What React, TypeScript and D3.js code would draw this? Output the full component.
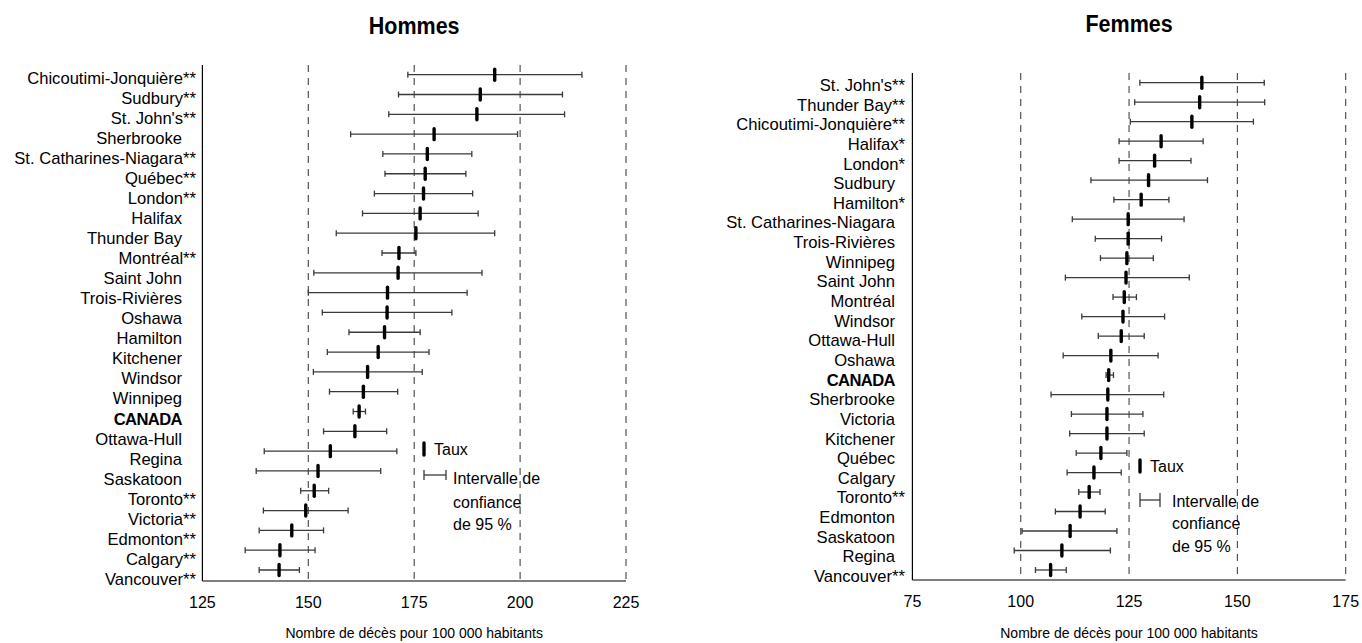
import React from "react";
import * as d3 from "d3";

// ---------- Data ----------
const menLabels = [
  "Chicoutimi-Jonquière**", "Sudbury**", "St. John's**", "Sherbrooke", "St. Catharines-Niagara**",
  "Québec**", "London**", "Halifax", "Thunder Bay", "Montréal**", "Saint John", "Trois-Rivières",
  "Oshawa", "Hamilton", "Kitchener", "Windsor", "Winnipeg", "CANADA", "Ottawa-Hull", "Regina",
  "Saskatoon", "Toronto**", "Victoria**", "Edmonton**", "Calgary**", "Vancouver**",
];
const menRate = [194.0, 190.6, 189.8, 179.7, 178.1, 177.6, 177.2, 176.4, 175.4, 171.4, 171.2, 168.7,
  168.6, 168.0, 166.5, 164.0, 163.0, 162.0, 161.0, 155.2, 152.3, 151.4, 149.4, 146.1, 143.3, 143.1];
const menLow = [173.5, 171.3, 169.0, 160.0, 167.6, 168.1, 165.6, 162.8, 156.6, 167.4, 151.3, 150.0,
  153.3, 159.6, 154.5, 151.2, 155.0, 160.6, 153.6, 139.6, 137.7, 148.2, 139.4, 138.4, 135.1, 138.4];
const menHigh = [214.6, 210.0, 210.5, 199.4, 188.6, 187.2, 188.8, 190.1, 194.0, 175.4, 191.0, 187.5,
  183.9, 176.4, 178.5, 176.9, 171.1, 163.5, 168.5, 170.9, 167.1, 154.8, 159.4, 153.6, 151.6, 147.9];

const womenLabels = [
  "St. John's**", "Thunder Bay**", "Chicoutimi-Jonquière**", "Halifax*", "London*", "Sudbury",
  "Hamilton*", "St. Catharines-Niagara", "Trois-Rivières", "Winnipeg", "Saint John", "Montréal",
  "Windsor", "Ottawa-Hull", "Oshawa", "CANADA", "Sherbrooke", "Victoria", "Kitchener", "Québec",
  "Calgary", "Toronto**", "Edmonton", "Saskatoon", "Regina", "Vancouver**",
];
const womenRate = [141.8, 141.3, 139.5, 132.4, 130.9, 129.5, 127.8, 124.8, 124.8, 124.5, 124.3, 123.9,
  123.6, 123.2, 120.8, 120.3, 120.1, 119.9, 119.9, 118.5, 116.9, 115.8, 113.7, 111.4, 109.5, 106.9];
const womenLow = [127.5, 126.3, 125.3, 122.7, 122.7, 116.2, 121.5, 111.9, 117.2, 118.4, 110.3, 121.3,
  114.1, 117.9, 109.8, 119.7, 107.0, 111.7, 111.3, 112.8, 110.7, 113.4, 108.0, 100.3, 98.5, 103.4];
const womenHigh = [156.2, 156.3, 153.7, 142.1, 139.3, 143.1, 134.2, 137.7, 132.5, 130.6, 138.9, 126.7,
  133.2, 128.5, 131.7, 121.4, 133.0, 128.2, 128.5, 124.5, 123.2, 118.3, 119.5, 122.2, 120.7, 110.5];

const menTicks = [125, 150, 175, 200, 225];
const womenTicks = [75, 100, 125, 150, 175];

const legendLines = ["Intervalle de", "confiance", "de 95 %"];
const axisTitle = "Nombre de décès pour 100 000 habitants";
const FONT = "'Liberation Sans', Arial, Helvetica, sans-serif";

type PanelProps = {
  title: string;
  labels: string[];
  rate: number[];
  low: number[];
  high: number[];
  ticks: number[];
  xRange: [number, number];
  yRange: [number, number];
  labelRange: [number, number];
  top: number;
  bottom: number;
  labelEndPlain: number;
  labelEndStar: number;
  titleY: number;
  legend: { x: number; tauxY: number; ciY: number; ciW: number; capH: number; textX: number; lines: number[] };
};

function Panel(p: PanelProps) {
  const x = d3.scaleLinear().domain([p.ticks[0], p.ticks[p.ticks.length - 1]]).range(p.xRange);
  const y = d3.scalePoint<string>().domain(p.labels).range(p.yRange);
  const yl = d3.scalePoint<string>().domain(p.labels).range(p.labelRange);
  const cx = (p.xRange[0] + p.xRange[1]) / 2;
  const lg = p.legend;
  return (
    <g>
      <text
        transform={`translate(${cx},${p.titleY}) scale(1,1.15)`}
        textAnchor="middle"
        fontFamily={FONT}
        fontWeight="bold"
        fontSize={21.5}
      >
        {p.title}
      </text>
      {/* dashed grid lines */}
      {p.ticks.slice(1).map((t) => (
        <line key={"g" + t} x1={x(t)} x2={x(t)} y1={p.top} y2={p.bottom} stroke="#444" strokeWidth={1.1} strokeDasharray="7,6" />
      ))}
      {/* axes */}
      <line x1={p.xRange[0]} x2={p.xRange[0]} y1={p.top} y2={p.bottom} stroke="#000" strokeWidth={1.2} />
      <line x1={p.xRange[0]} x2={p.xRange[1]} y1={p.bottom} y2={p.bottom} stroke="#000" strokeWidth={1.2} />
      {p.ticks.map((t) => (
        <text key={"t" + t} x={x(t)} y={p.bottom + 27} textAnchor="middle" fontFamily={FONT} fontSize={16}>
          {t}
        </text>
      ))}
      <text x={cx} y={638} textAnchor="middle" fontFamily={FONT} fontSize={14}>
        {axisTitle}
      </text>
      {/* rows */}
      {p.labels.map((lab, i) => {
        const yy = y(lab) as number;
        const star = /\*+$/.test(lab);
        const bold = lab === "CANADA";
        return (
          <g key={lab}>
            <text
              x={star ? p.labelEndStar : p.labelEndPlain}
              y={(yl(lab) as number) + 6}
              textAnchor="end"
              fontFamily={FONT}
              fontSize={16.6}
              fontWeight={bold ? "bold" : "normal"}
              letterSpacing={bold ? -0.6 : 0}
            >
              {lab}
            </text>
            <line x1={x(p.low[i])} x2={x(p.high[i])} y1={yy} y2={yy} stroke="#3a3a3a" strokeWidth={1.3} />
            <line x1={x(p.low[i])} x2={x(p.low[i])} y1={yy - 3} y2={yy + 3} stroke="#3a3a3a" strokeWidth={1.3} />
            <line x1={x(p.high[i])} x2={x(p.high[i])} y1={yy - 3} y2={yy + 3} stroke="#3a3a3a" strokeWidth={1.3} />
            <line x1={x(p.rate[i])} x2={x(p.rate[i])} y1={yy - 5.5} y2={yy + 5.5} stroke="#000" strokeWidth={3.4} strokeLinecap="round" />
          </g>
        );
      })}
      {/* legend */}
      <line x1={lg.x} x2={lg.x} y1={lg.tauxY - 6} y2={lg.tauxY + 6} stroke="#000" strokeWidth={3.4} strokeLinecap="round" />
      <text x={lg.x + 10} y={lg.tauxY + 5.5} fontFamily={FONT} fontSize={16}>Taux</text>
      <line x1={lg.x} x2={lg.x + lg.ciW} y1={lg.ciY} y2={lg.ciY} stroke="#3a3a3a" strokeWidth={1.3} />
      <line x1={lg.x} x2={lg.x} y1={lg.ciY - lg.capH} y2={lg.ciY + lg.capH} stroke="#3a3a3a" strokeWidth={1.3} />
      <line x1={lg.x + lg.ciW} x2={lg.x + lg.ciW} y1={lg.ciY - lg.capH} y2={lg.ciY + lg.capH} stroke="#3a3a3a" strokeWidth={1.3} />
      {legendLines.map((s, k) => (
        <text key={s} x={lg.textX} y={lg.lines[k]} fontFamily={FONT} fontSize={16}>
          {s}
        </text>
      ))}
    </g>
  );
}

export default function App() {
  return (
    <svg
      width={1362}
      height={643}
      style={{ position: "absolute", left: 0, top: 0, background: "#fff" }}
    >
      <rect width={1362} height={643} fill="#fff" />
      <Panel
        title="Hommes"
        labels={menLabels}
        rate={menRate}
        low={menLow}
        high={menHigh}
        ticks={menTicks}
        xRange={[202.4, 626]}
        yRange={[74.7, 570]}
        labelRange={[77.5, 579]}
        top={65}
        bottom={581}
        labelEndPlain={182}
        labelEndStar={196}
        titleY={34}
        legend={{ x: 424, tauxY: 449, ciY: 475, ciW: 22, capH: 5, textX: 453, lines: [484, 508, 530] }}
      />
      <Panel
        title="Femmes"
        labels={womenLabels}
        rate={womenRate}
        low={womenLow}
        high={womenHigh}
        ticks={womenTicks}
        xRange={[912.4, 1345.7]}
        yRange={[82.7, 570]}
        labelRange={[85, 576]}
        top={73}
        bottom={580}
        labelEndPlain={895}
        labelEndStar={905}
        titleY={32}
        legend={{ x: 1140, tauxY: 466, ciY: 500, ciW: 20, capH: 7, textX: 1172, lines: [507, 529, 552] }}
      />
    </svg>
  );
}
